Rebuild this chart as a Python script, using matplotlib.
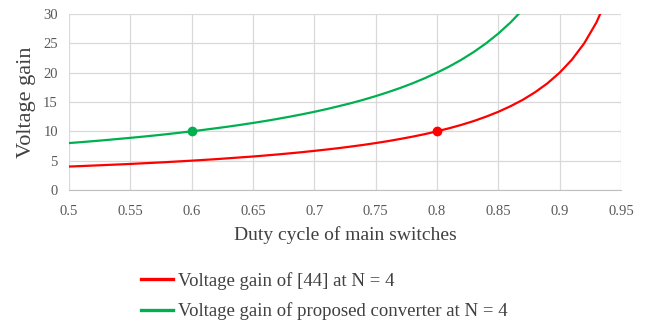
import matplotlib
matplotlib.use("Agg")
import matplotlib.pyplot as plt

# duty cycle values
duty = [0.50, 0.51, 0.52, 0.53, 0.54, 0.55, 0.56, 0.57, 0.58, 0.59,
        0.60, 0.61, 0.62, 0.63, 0.64, 0.65, 0.66, 0.67, 0.68, 0.69,
        0.70, 0.71, 0.72, 0.73, 0.74, 0.75, 0.76, 0.77, 0.78, 0.79,
        0.80, 0.81, 0.82, 0.83, 0.84, 0.85, 0.86, 0.87, 0.88, 0.89,
        0.90, 0.91, 0.92, 0.93, 0.94]

# voltage gain of [44] at N = 4
gain_ref = [4.00, 4.08, 4.17, 4.26, 4.35, 4.44, 4.55, 4.65, 4.76, 4.88,
            5.00, 5.13, 5.26, 5.41, 5.56, 5.71, 5.88, 6.06, 6.25, 6.45,
            6.67, 6.90, 7.14, 7.41, 7.69, 8.00, 8.33, 8.70, 9.09, 9.52,
            10.00, 10.53, 11.11, 11.76, 12.50, 13.33, 14.29, 15.38, 16.67, 18.18,
            20.00, 22.22, 25.00, 28.57, 33.33]

# voltage gain of proposed converter at N = 4
duty_prop = duty[:38]
gain_prop = [8.00, 8.16, 8.33, 8.51, 8.70, 8.89, 9.09, 9.30, 9.52, 9.76,
             10.00, 10.26, 10.53, 10.81, 11.11, 11.43, 11.76, 12.12, 12.50, 12.90,
             13.33, 13.79, 14.29, 14.81, 15.38, 16.00, 16.67, 17.39, 18.18, 19.05,
             20.00, 21.05, 22.22, 23.53, 25.00, 26.67, 28.57, 30.77]

# highlighted points
mark_ref = (0.8, 10.0)
mark_prop = (0.6, 10.0)

x_ticks = [0.5, 0.55, 0.6, 0.65, 0.7, 0.75, 0.8, 0.85, 0.9, 0.95]
x_ticklabels = ["0.5", "0.55", "0.6", "0.65", "0.7", "0.75", "0.8", "0.85", "0.9", "0.95"]
y_ticks = [0, 5, 10, 15, 20, 25, 30]

RED = "#FF0000"
GREEN = "#00B050"
GRID = "#D9D9D9"
TXT = "#595959"

plt.rcParams["font.family"] = ["Liberation Serif", "DejaVu Serif"]

fig = plt.figure(figsize=(6.51, 3.26), dpi=100)
ax = fig.add_axes([69 / 651, 136 / 326, 552 / 651, 176 / 326])

ax.plot(duty, gain_ref, color=RED, linewidth=1.6, label="Voltage gain of [44] at N = 4")
ax.plot(duty_prop, gain_prop, color=GREEN, linewidth=1.6,
        label="Voltage gain of proposed converter at N = 4")
ax.plot(*mark_ref, "o", color=RED, markersize=6)
ax.plot(*mark_prop, "o", color=GREEN, markersize=6)

ax.set_xlim(0.5, 0.95)
ax.set_ylim(0, 30)
ax.set_xticks(x_ticks)
ax.set_xticklabels(x_ticklabels)
ax.set_yticks(y_ticks)
ax.grid(True, color=GRID, linewidth=0.9)
ax.set_axisbelow(True)
for s in ["top", "right", "left"]:
    ax.spines[s].set_visible(False)
ax.spines["bottom"].set_color("#BFBFBF")
ax.tick_params(length=0, colors=TXT, labelsize=10.5)
ax.tick_params(axis="x", pad=11)
ax.tick_params(axis="y", pad=8)

ax.set_xlabel("Duty cycle of main switches", fontsize=14, color="#404040", labelpad=6)
ax.set_ylabel("Voltage gain", fontsize=16, color="#404040", labelpad=5)

leg = fig.legend(loc="upper left", bbox_to_anchor=(141 / 651, 1 - 272 / 326), frameon=False,
                 fontsize=13.5, handlelength=1.7, handletextpad=0.3, labelspacing=0.68,
                 borderaxespad=0, borderpad=0)
for t in leg.get_texts():
    t.set_color("#404040")
for h in leg.get_lines():
    h.set_linewidth(2.4)

fig.savefig("out.png", dpi=100)
